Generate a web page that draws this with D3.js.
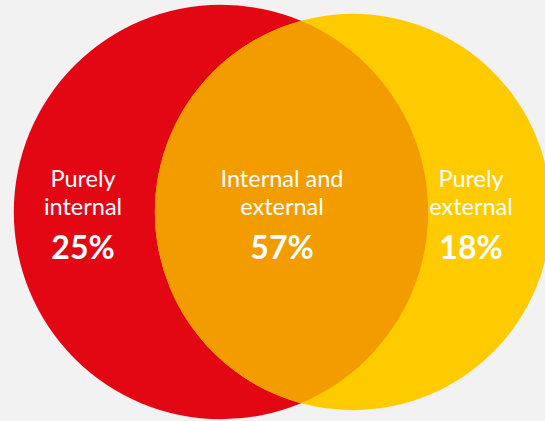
<!DOCTYPE html>
<html>
<head>
<meta charset="utf-8">
<script src="https://cdn.jsdelivr.net/npm/d3@7/dist/d3.min.js"></script>
<style>
  html, body { margin: 0; padding: 0; background: #f2f2f2; }
  svg { display: block; }
</style>
</head>
<body>
<div id="chart"></div>
<script>
// ---- data ----
const regionNames = ["Purely internal", "Internal and external", "Purely external"];
const regionLines = [["Purely", "internal"], ["Internal and", "external"], ["Purely", "external"]];
const regionValues = [25, 57, 18];
const setNames = ["Internal", "External"];
const setColors = ["#e30613", "#fecb00"];
const overlapColor = "#f39c00";

// ---- layout ----
const W = 545, H = 421;
const svg = d3.select("#chart").append("svg")
  .attr("width", W).attr("height", H);

svg.append("rect").attr("width", W).attr("height", H).attr("fill", "#f2f2f2");

// set totals (area proportional)
const setTotals = [regionValues[0] + regionValues[1], regionValues[1] + regionValues[2]];
const rScale = d3.scaleSqrt().domain([0, 100]).range([0, 228.8]);
const centersX = [221, 353];
const cy = 212;

const sets = setNames.map((n, i) => ({
  name: n, cx: centersX[i], cy: cy, r: rScale(setTotals[i]), color: setColors[i]
}));

const defs = svg.append("defs");
defs.append("clipPath").attr("id", "clipInternal")
  .append("circle")
  .attr("cx", sets[0].cx).attr("cy", sets[0].cy).attr("r", sets[0].r);

svg.selectAll("circle.set").data(sets).join("circle")
  .attr("class", "set")
  .attr("cx", d => d.cx).attr("cy", d => d.cy).attr("r", d => d.r)
  .attr("fill", d => d.color);

// overlap
svg.append("circle")
  .attr("clip-path", "url(#clipInternal)")
  .attr("cx", sets[1].cx).attr("cy", sets[1].cy).attr("r", sets[1].r)
  .attr("fill", overlapColor);

// labels
const labelX = [83, 282, 471];
const g = svg.selectAll("g.label").data(regionNames).join("g")
  .attr("class", "label")
  .attr("transform", (d, i) => `translate(${labelX[i]},0)`);

g.each(function(d, i) {
  const sel = d3.select(this);
  regionLines[i].forEach((line, j) => {
    sel.append("text")
      .attr("x", 0).attr("y", 187 + j * 28)
      .attr("text-anchor", "middle")
      .attr("fill", "#ffffff")
      .attr("font-family", "Lato, 'Open Sans', sans-serif")
      .attr("font-size", 23.5)
      .text(line);
  });
  sel.append("text")
    .attr("x", 0).attr("y", 259)
    .attr("text-anchor", "middle")
    .attr("fill", "#ffffff")
    .attr("font-family", "Lato, 'Open Sans', sans-serif")
    .attr("font-weight", "bold")
    .attr("font-size", 32)
    .text(d3.format("d")(regionValues[i]) + "%");
});
</script>
</body>
</html>
